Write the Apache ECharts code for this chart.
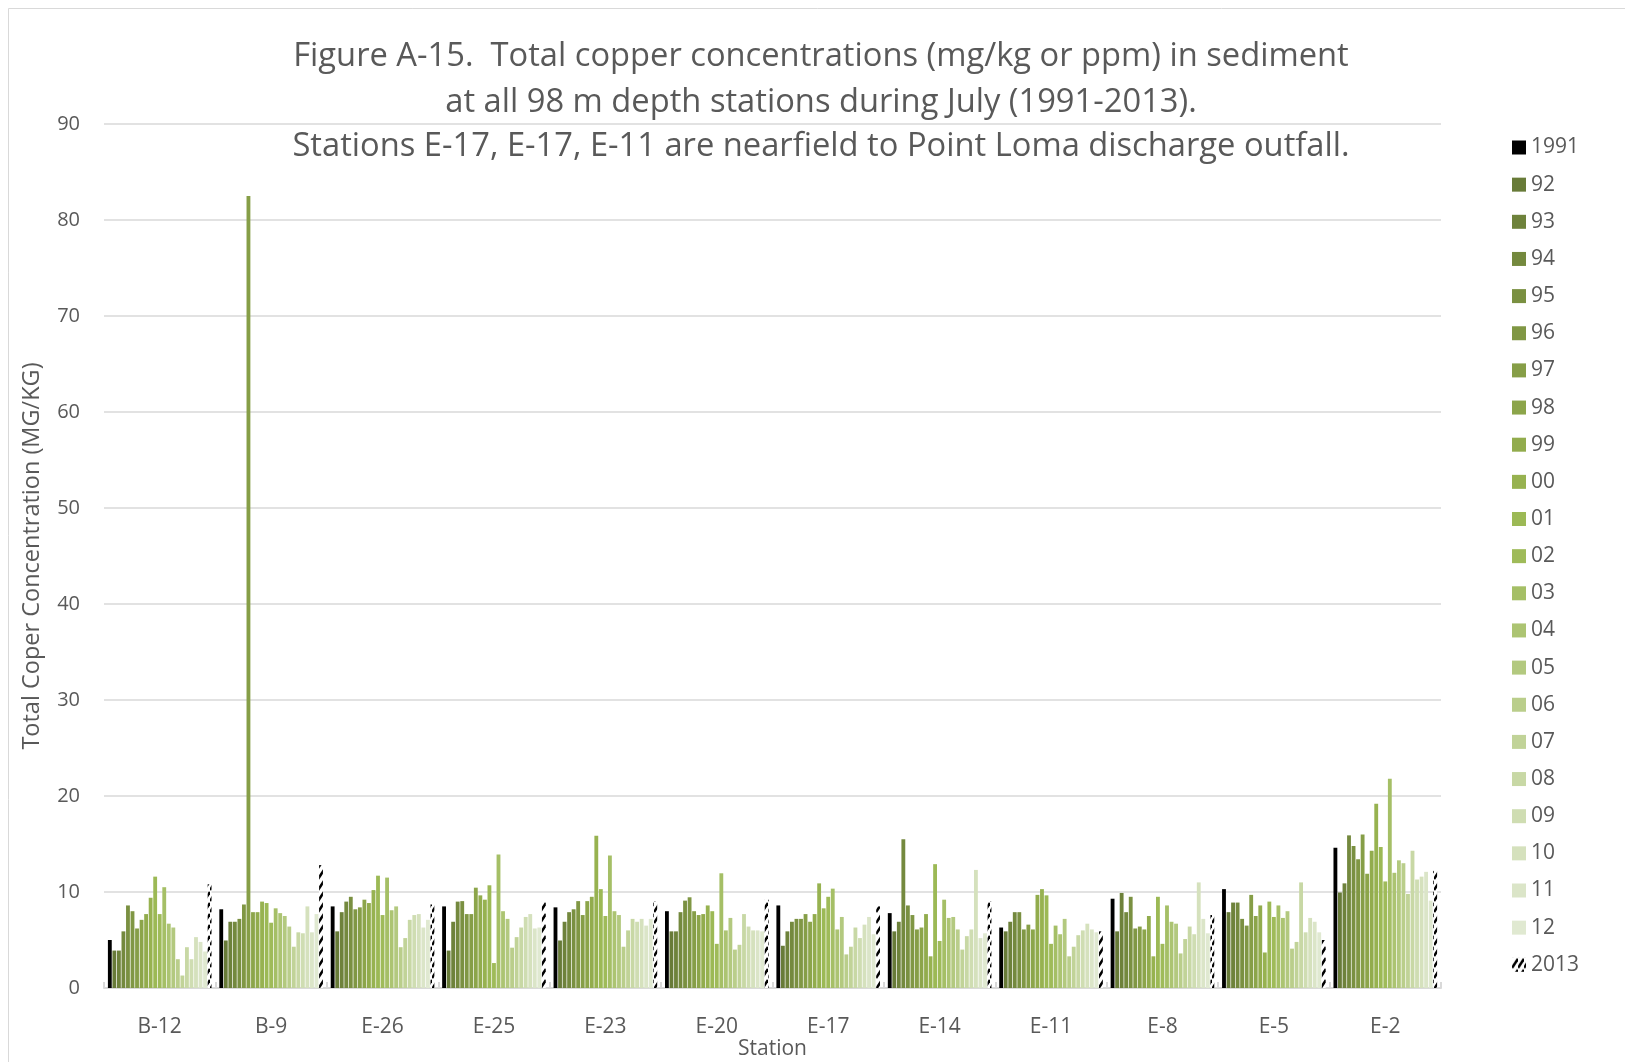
<!DOCTYPE html>
<html>
<head>
<meta charset="utf-8">
<script src="https://cdn.jsdelivr.net/npm/echarts@6/dist/echarts.min.js"></script>
<style>
html, body { margin: 0; padding: 0; background: #fff; }
#chart { width: 1625px; height: 1062px; }
</style>
</head>
<body>
<div id="chart"></div>
<script>
// stations on the x axis
const stations = ['B-12', 'B-9', 'E-26', 'E-25', 'E-23', 'E-20', 'E-17', 'E-14', 'E-11', 'E-8', 'E-5', 'E-2']
// legend names, one per survey year
const years = ['1991', '92', '93', '94', '95', '96', '97', '98', '99', '00', '01', '02', '03', '04', '05', '06', '07', '08', '09', '10', '11', '12', '2013']
const yTicks = [0, 10, 20, 30, 40, 50, 60, 70, 80, 90]
const titleLines = [
  'Figure A-15.  Total copper concentrations (mg/kg or ppm) in sediment',
  'at all 98 m depth stations during July (1991-2013).',
  'Stations E-17, E-17, E-11 are nearfield to Point Loma discharge outfall.'
]

// copper mg/kg per station, 1991 .. 2013
const b12 = [5.0, 3.9, 3.9, 5.9, 8.6, 8.0, 6.2, 7.1, 7.7, 9.4, 11.6, 7.7, 10.5, 6.7, 6.3, 3.0, 1.3, 4.25, 3.0, 5.3, 4.8, 3.8, 10.8]
const b9 = [8.2, 4.95, 6.9, 6.9, 7.2, 8.7, 82.5, 7.9, 7.9, 9.0, 8.85, 6.8, 8.3, 7.8, 7.5, 6.4, 4.3, 5.8, 5.7, 8.5, 5.8, 7.7, 12.8]
const e26 = [8.5, 5.9, 7.9, 9.0, 9.5, 8.2, 8.4, 9.2, 8.85, 10.2, 11.7, 7.6, 11.5, 8.1, 8.5, 4.25, 5.2, 7.1, 7.6, 7.7, 6.3, 7.1, 8.7]
const e25 = [8.5, 3.9, 6.9, 9.0, 9.05, 7.7, 7.7, 10.45, 9.65, 9.2, 10.7, 2.6, 13.9, 8.0, 7.2, 4.2, 5.3, 6.3, 7.4, 7.7, 6.2, 6.3, 9.05]
const e23 = [8.4, 4.95, 6.9, 7.9, 8.2, 9.05, 7.6, 9.05, 9.5, 15.85, 10.3, 7.5, 13.8, 8.0, 7.6, 4.3, 6.0, 7.2, 6.9, 7.2, 6.5, 7.2, 9.05]
const e20 = [8.0, 5.9, 5.9, 7.9, 9.1, 9.45, 8.0, 7.6, 7.7, 8.6, 8.0, 4.6, 11.95, 6.0, 7.3, 4.0, 4.5, 7.7, 6.4, 6.0, 6.0, 5.9, 9.2]
const e17 = [8.6, 4.4, 5.9, 6.9, 7.2, 7.2, 7.7, 6.9, 7.7, 10.9, 8.3, 9.5, 10.35, 6.1, 7.4, 3.5, 4.3, 6.3, 5.2, 6.6, 7.4, 5.6, 8.5]
const e14 = [7.8, 5.9, 6.9, 15.5, 8.6, 7.6, 6.1, 6.3, 7.7, 3.3, 12.9, 4.9, 9.2, 7.3, 7.4, 6.1, 4.0, 5.4, 6.1, 12.3, 5.2, 5.7, 9.05]
const e11 = [6.3, 5.9, 6.9, 7.9, 7.9, 6.1, 6.6, 6.1, 9.7, 10.3, 9.65, 4.6, 6.5, 5.6, 7.2, 3.3, 4.3, 5.5, 6.0, 6.7, 6.1, 5.8, 5.9]
const e8 = [9.3, 5.9, 9.9, 7.9, 9.5, 6.2, 6.4, 6.1, 7.5, 3.3, 9.5, 4.6, 8.6, 6.9, 6.7, 3.6, 5.1, 6.4, 5.6, 11.0, 7.2, 5.7, 7.6]
const e5 = [10.3, 7.9, 8.9, 8.9, 7.2, 6.5, 9.7, 7.5, 8.6, 3.7, 9.0, 7.4, 8.6, 7.3, 8.0, 4.1, 4.8, 11.0, 5.8, 7.3, 6.9, 5.8, 5.0]
const e2 = [14.6, 9.95, 10.9, 15.9, 14.8, 13.4, 16.0, 11.9, 14.3, 19.2, 14.7, 11.1, 21.8, 12.0, 13.3, 13.0, 9.8, 14.3, 11.3, 11.6, 12.1, 9.1, 12.2]

const byStation = [b12, b9, e26, e25, e23, e20, e17, e14, e11, e8, e5, e2]

const yearColors = ['#000000', '#687b38', '#6e823b', '#74893e', '#7a9041', '#809744', '#869e47', '#8ca54a', '#92ac4d', '#97b250', '#9cb955', '#9fbb59',
  '#a5bf66', '#acc472', '#b3c97f', '#bace8b', '#c1d398', '#c8d8a5', '#cfddb2', '#d5e1bd', '#dbe5c8', '#e0e9d1']

// slanted dash fill for the 2013 bars
function dashPattern() {
  const c = document.createElement('canvas')
  c.width = 6
  c.height = 11
  const ctx = c.getContext('2d')
  ctx.fillStyle = '#fff'
  ctx.fillRect(0, 0, 6, 11)
  ctx.strokeStyle = '#000'
  ctx.lineWidth = 2.6
  ctx.beginPath()
  ctx.moveTo(0, 10)
  ctx.lineTo(6, 1)
  ctx.stroke()
  return { image: c, repeat: 'repeat' }
}

const textColor = '#595959'
const font = 'Open Sans'

const series = years.map((y, i) => ({
  name: y,
  type: 'bar',
  barGap: '18%',
  barCategoryGap: '7%',
  itemStyle: { color: i === years.length - 1 ? dashPattern() : yearColors[i] },
  data: byStation.map(s => s[i])
}))

// title drawn as three centred lines
const titleY = [57, 102.5, 147]
const titleText = titleLines.map((t, i) => ({
  type: 'text',
  x: 821,
  y: titleY[i],
  silent: true,
  style: {
    text: t,
    fill: textColor,
    font: '32.7px "Open Sans"',
    textAlign: 'center',
    textVerticalAlign: 'middle'
  }
}))

const chart = echarts.init(document.getElementById('chart'))
chart.setOption({
  animation: false,
  backgroundColor: '#fff',
  legend: {
    orient: 'vertical',
    left: 1507,
    top: 132,
    itemWidth: 14,
    itemHeight: 14,
    itemGap: 16.15,
    icon: 'rect',
    data: years,
    textStyle: { color: textColor, fontFamily: font, fontSize: 21, lineHeight: 20 }
  },
  graphic: [{
    type: 'rect',
    shape: { x: 8.5, y: 8.5, width: 1700, height: 1200 },
    style: { fill: 'none', stroke: '#d9d9d9', lineWidth: 1 },
    silent: true
  }].concat(titleText),
  grid: { left: 104, right: 184, top: 124, bottom: 74, outerBoundsMode: 'none' },
  xAxis: {
    type: 'category',
    data: stations,
    name: 'Station',
    nameLocation: 'middle',
    nameGap: 50.5,
    nameMoveOverlap: false,
    nameTextStyle: { color: textColor, fontFamily: font, fontSize: 21 },
    axisLine: { lineStyle: { color: '#d9d9d9', width: 2 } },
    axisTick: { show: true, inside: true, length: 6, lineStyle: { color: '#d9d9d9', width: 2 } },
    axisLabel: { color: textColor, fontFamily: font, fontSize: 21, margin: 29 }
  },
  yAxis: {
    type: 'value',
    min: yTicks[0],
    max: yTicks[yTicks.length - 1],
    interval: 10,
    name: 'Total Coper Concentration (MG/KG)',
    nameLocation: 'middle',
    nameGap: 60,
    nameMoveOverlap: false,
    nameTextStyle: { color: textColor, fontFamily: font, fontSize: 23.5 },
    axisLine: { show: false },
    axisTick: { show: false },
    splitLine: { lineStyle: { color: '#d9d9d9', width: 1.5 } },
    axisLabel: { color: textColor, fontFamily: font, fontSize: 20, margin: 24 }
  },
  series: series
})
</script>
</body>
</html>
